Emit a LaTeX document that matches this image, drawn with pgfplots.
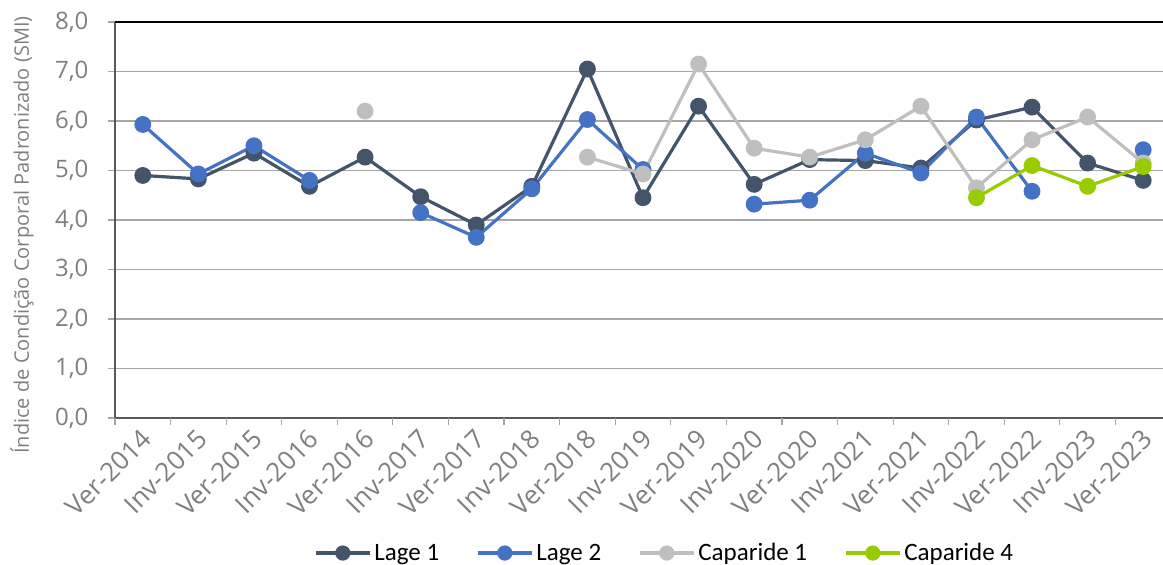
\documentclass[border=0pt]{standalone}
\usepackage{fontspec}
\setmainfont{Open Sans}
\newfontfamily\legfont{Carlito}
\usepackage{pgfplots}
\pgfplotsset{compat=1.18}
\definecolor{lageA}{HTML}{44546A}
\definecolor{lageB}{HTML}{4472C4}
\definecolor{capA}{HTML}{BFBFBF}
\definecolor{capD}{HTML}{99CC00}
\definecolor{txtgray}{HTML}{7F7F7F}
\definecolor{gridgray}{HTML}{A6A6A6}
\definecolor{axgray}{HTML}{595959}
\begin{document}
\begin{tikzpicture}
\begin{axis}[
  at={(0pt,0pt)}, anchor=south west,
  scale only axis, width=1056pt, height=396pt,
  xmin=-0.5, xmax=18.5, ymin=0, ymax=8,
  axis lines*=left,
  axis line style={draw=axgray, line width=1.6pt},
  ytick={0,1,...,8},
  ymajorgrids, grid style={gridgray, line width=1.2pt},
  yticklabel style={font=\fontsize{24}{28}\selectfont, text=txtgray, anchor=east, xshift=-16pt},
  y tick label style={/pgf/number format/fixed, /pgf/number format/fixed zerofill, /pgf/number format/precision=1, /pgf/number format/use comma, /pgf/number format/assume math mode=true},
  xtick={0,...,18},
  xticklabels={Ver-2014,Inv-2015,Ver-2015,Inv-2016,Ver-2016,Inv-2017,Ver-2017,Inv-2018,Ver-2018,Inv-2019,Ver-2019,Inv-2020,Ver-2020,Inv-2021,Ver-2021,Inv-2022,Ver-2022,Inv-2023,Ver-2023},
  xticklabel style={rotate=45, anchor=north east, font=\fontsize{26}{30}\selectfont, text=txtgray, inner sep=1pt, xshift=-3pt, yshift=1pt},
  xtick style={draw=none},
  extra x ticks={-0.5,0.5,...,18.5},
  extra x tick labels={},
  extra x tick style={xtick style={draw=gridgray, line width=1.2pt}, grid=none},
  ytick style={draw=gridgray, line width=1.2pt},
  major tick length=7pt, tick align=outside,
  ylabel={Índice de Condição Corporal Padronizado (SMI)},
  ylabel style={font=\fontsize{20}{24}\selectfont, text=txtgray, at={(axis description cs:-0.088,0.462)}, anchor=center},
  every axis plot/.append style={line width=3.2pt, mark=*, mark size=6.8pt},
  unbounded coords=jump,
  legend columns=4,
  legend style={draw=none, fill=none, at={(axis description cs:0.521,-0.341)}, anchor=center, font=\legfont\fontsize{25}{29}\selectfont, /tikz/every even column/.append style={column sep=34pt}, /tikz/every odd column/.append style={column sep=0pt}, nodes={inner sep=3pt}},
  legend image code/.code={\draw[mark repeat=2, mark phase=2, mark size=6pt] plot coordinates {(0pt,0pt)(27pt,0pt)(54pt,0pt)};},
  clip=false,
]
\addplot[lageA, mark options={fill=lageA, draw=lageA}] coordinates {
 (0,4.9) (1,4.83) (2,5.35) (3,4.68) (4,5.27) (5,4.47) (6,3.9) (7,4.68) (8,7.05) (9,4.45)
 (10,6.3) (11,4.72) (12,5.22) (13,5.2) (14,5.05) (15,6.02) (16,6.28) (17,5.15) (18,4.8)};
\addlegendentry{Lage 1}
\addplot[lageB, mark options={fill=lageB, draw=lageB}] coordinates {
 (0,5.93) (1,4.93) (2,5.5) (3,4.8) (4,nan) (5,4.15) (6,3.65) (7,4.63) (8,6.03) (9,5.02)
 (10,nan) (11,4.32) (12,4.4) (13,5.35) (14,4.95) (15,6.08) (16,4.58) (17,nan) (18,5.42)};
\addlegendentry{Lage 2}
\addplot[capA, mark options={fill=capA, draw=capA}] coordinates {
 (0,nan) (4,6.2) (5,nan) (8,5.27) (9,4.93) (10,7.15) (11,5.45) (12,5.27) (13,5.62)
 (14,6.3) (15,4.65) (16,5.62) (17,6.08) (18,5.15)};
\addlegendentry{Caparide 1}
\addplot[capD, mark options={fill=capD, draw=capD}] coordinates {
 (15,4.45) (16,5.1) (17,4.68) (18,5.08)};
\addlegendentry{Caparide 4}
\draw[black, line width=1.6pt] (rel axis cs:0,1) -- (rel axis cs:1,1);
\end{axis}
\pgfresetboundingbox
\useasboundingbox (-115pt,-147pt) rectangle (1048pt,418pt);
\end{tikzpicture}
\end{document}
